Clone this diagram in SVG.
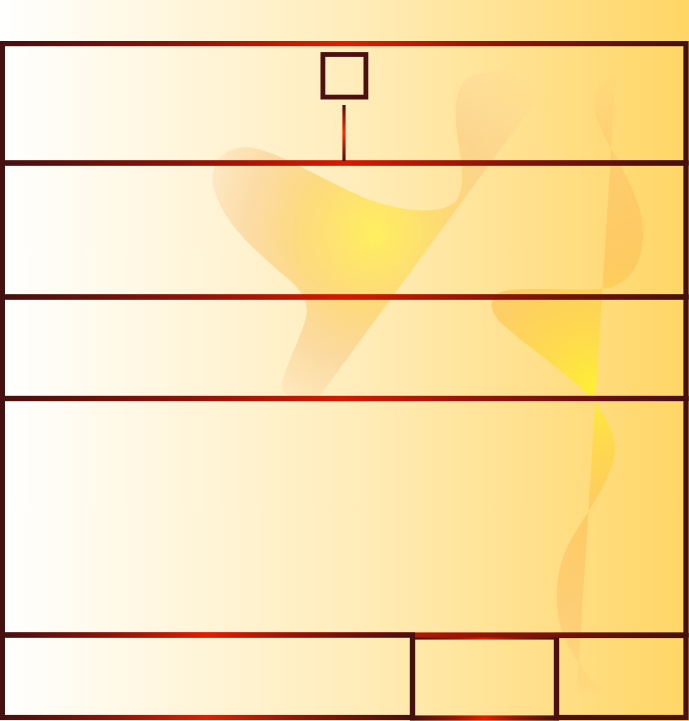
<svg xmlns="http://www.w3.org/2000/svg" width="689" height="721" viewBox="0 0 689 721">
<defs>
<linearGradient id="bg" x1="0" y1="0" x2="1" y2="0">
<stop offset="0" stop-color="#ffffff"/>
<stop offset="0.5" stop-color="#ffedbc"/>
<stop offset="1" stop-color="#ffd564"/>
</linearGradient>
<linearGradient id="edge" x1="0" y1="0" x2="1" y2="0">
<stop offset="0" stop-color="#451010"/>
<stop offset="0.28" stop-color="#8c1409"/>
<stop offset="0.5" stop-color="#d41a02"/>
<stop offset="0.72" stop-color="#8c1409"/>
<stop offset="1" stop-color="#451010"/>
</linearGradient>
<linearGradient id="edgeB" x1="0" y1="0" x2="1" y2="0">
<stop offset="0" stop-color="#451010"/>
<stop offset="0.28" stop-color="#921409"/>
<stop offset="0.5" stop-color="#e41c00"/>
<stop offset="0.72" stop-color="#921409"/>
<stop offset="1" stop-color="#451010"/>
</linearGradient>
<linearGradient id="stub" x1="0" y1="0" x2="0" y2="1">
<stop offset="0" stop-color="#4a1010"/>
<stop offset="0.5" stop-color="#ff2a08"/>
<stop offset="1" stop-color="#4a1010"/>
</linearGradient>
<radialGradient id="blobA" gradientUnits="userSpaceOnUse" cx="375" cy="233" r="215">
<stop offset="0" stop-color="#fff05a" stop-opacity="0.95"/>
<stop offset="0.35" stop-color="#fcd468" stop-opacity="0.75"/>
<stop offset="0.6" stop-color="#f8c67e" stop-opacity="0.5"/>
<stop offset="0.85" stop-color="#f7c58a" stop-opacity="0.18"/>
<stop offset="1" stop-color="#f7c58a" stop-opacity="0"/>
</radialGradient>
<radialGradient id="blobB" gradientUnits="userSpaceOnUse" cx="592" cy="388" r="320">
<stop offset="0" stop-color="#ffee35" stop-opacity="1"/>
<stop offset="0.15" stop-color="#fedc45" stop-opacity="0.9"/>
<stop offset="0.4" stop-color="#fdc458" stop-opacity="0.7"/>
<stop offset="0.7" stop-color="#fbbb62" stop-opacity="0.45"/>
<stop offset="1" stop-color="#fab870" stop-opacity="0"/>
</radialGradient>
<style>
.row{fill:none;stroke:url(#edge);stroke-width:5.2}
.cell{fill:none;stroke:url(#edgeB);stroke-width:5.2}
.dark{fill:none;stroke:#4a1010;stroke-width:5.2}
.sq{fill:none;stroke:#4d1010;stroke-width:4.8}
</style>
</defs>
<rect x="0" y="0" width="689" height="721" fill="url(#bg)"/>
<g id="decor">
<path d="M 557 72 L 316 401 C 300 402 285 398 282 388 C 282 372 298 345 306 318 C 310 300 300 288 280 272 C 255 250 225 225 214 190 C 208 168 220 148 245 147 C 275 148 320 180 370 200 C 405 212 440 215 455 202 C 466 190 462 165 458 140 C 453 110 455 85 470 77 C 490 68 530 68 557 72 Z" fill="url(#blobA)"/>
<path d="M 616 72 L 577 692 L 600 692 C 588 675 570 655 562 632 C 552 600 556 565 572 538 C 585 515 605 490 613 462 C 620 438 605 412 585 392 C 560 368 525 345 500 322 C 487 308 488 292 510 290 C 545 287 585 292 610 288 C 640 278 648 245 640 210 C 630 175 608 148 598 122 C 590 100 595 80 616 72 Z" fill="url(#blobB)"/>
</g>
<g id="cell-mid"><rect class="cell" x="412.5" y="637" width="144" height="81"/></g>
<g id="cell-right"><rect class="dark" x="556.5" y="635.5" width="129.5" height="82"/></g>
<g id="row1"><rect class="cell" x="2.4" y="43.6" width="683.6" height="119.4"/></g>
<g id="row2"><rect class="row" x="2.4" y="163" width="683.6" height="134"/></g>
<g id="row3"><rect class="row" x="2.4" y="297" width="683.6" height="101.5"/></g>
<g id="row4"><rect class="row" x="2.4" y="398.5" width="683.6" height="236.5"/></g>
<g id="cell-left"><rect class="cell" x="2.4" y="635" width="410.1" height="82.5"/></g>
<g id="box"><rect class="sq" x="322.9" y="54.5" width="43" height="42.6"/></g>
<g id="connectors">
<rect x="342.4" y="105" width="3.2" height="56" fill="url(#stub)"/>
</g>
</svg>
